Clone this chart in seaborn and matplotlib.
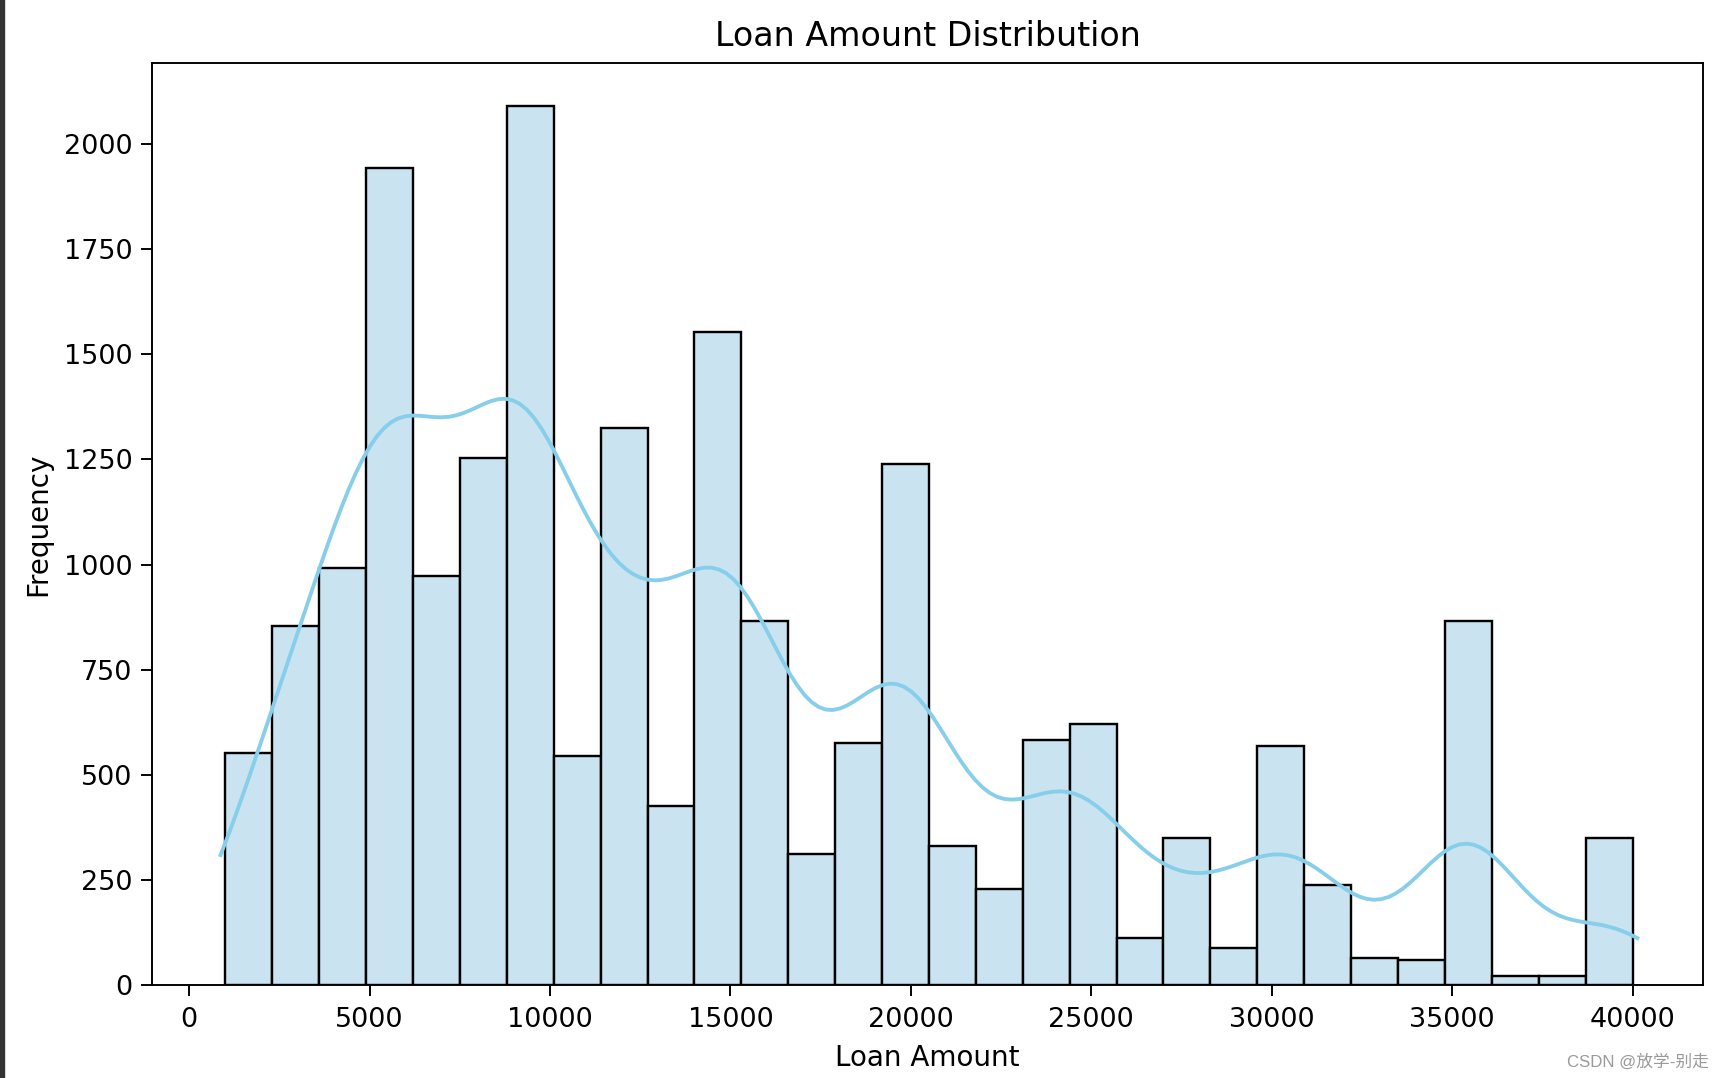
import numpy as np
import pandas as pd
import seaborn as sns
import matplotlib
matplotlib.use("Agg")
import matplotlib.pyplot as plt
from matplotlib.patches import Rectangle

# Histogram data (30 bins from 1000 to 40000)
bin_edges = list(np.linspace(1000, 40000, 31))
counts = [551, 854, 992, 1943, 974, 1253, 2089, 546, 1324, 426,
          1554, 867, 313, 577, 1238, 332, 230, 582, 621, 112,
          350, 89, 569, 238, 65, 60, 867, 23, 23, 350]
x_ticks = [0, 5000, 10000, 15000, 20000, 25000, 30000, 35000, 40000]
y_ticks = [0, 250, 500, 750, 1000, 1250, 1500, 1750, 2000]

centers = [(bin_edges[i] + bin_edges[i + 1]) / 2 for i in range(len(counts))]
df = pd.DataFrame({"loan_amnt": centers, "count": counts})

plt.rcParams['font.family'] = ['DejaVu Sans', 'Noto Sans CJK SC']
fig = plt.figure(figsize=(1724 / 172.4, 1078 / 172.4), dpi=172.4)
ax = fig.add_axes([0.088, 0.086, 0.900, 0.856])

sns.histplot(data=df, x="loan_amnt", weights="count", bins=bin_edges,
             kde=True, color="skyblue", edgecolor="black", linewidth=1.0,
             kde_kws={"bw_adjust": 0.27, "cut": 0.5},
             line_kws={"linewidth": 1.6}, ax=ax)
for p in ax.patches:
    p.set_facecolor("#c9e4f0")
    p.set_alpha(1.0)

ax.set_xlim(-1040, 41960)
ax.set_xticks(x_ticks)
ax.set_yticks(y_ticks)
ax.tick_params(labelsize=11.3, length=4.5)
ax.tick_params(axis="x", pad=4.6)
ax.set_title("Loan Amount Distribution", fontsize=13.9, pad=7)
ax.set_xlabel("Loan Amount", fontsize=11.6, labelpad=4.5)
ax.set_ylabel("Frequency", fontsize=11.6, labelpad=5)

fig.text(0.991, 0.008, "CSDN @放学-别走", ha="right", va="bottom",
         fontsize=7, color="#9a9a9a", family=['Liberation Sans', 'Noto Sans CJK SC'])
fig.patches.append(Rectangle((0, 0), 3.5 / 1724, 1, transform=fig.transFigure,
                             color="#333333", zorder=10))

fig.savefig("out.png", dpi=172.4)
